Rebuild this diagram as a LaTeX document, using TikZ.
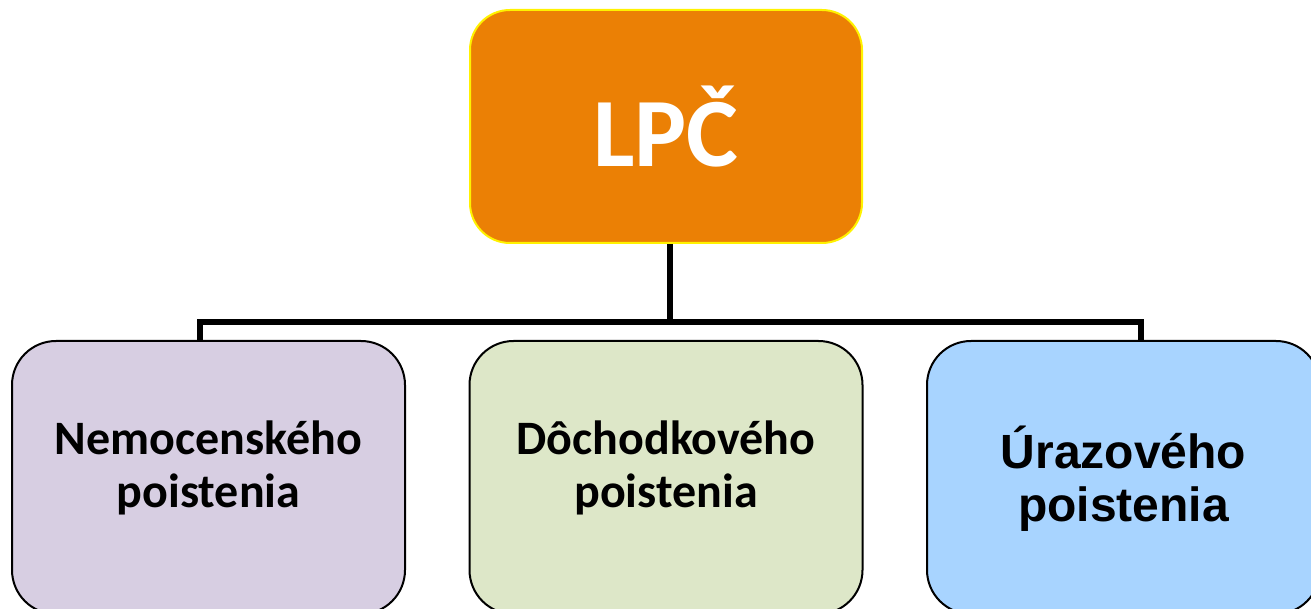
\documentclass[tikz,border=0pt]{standalone}
\usepackage{fontspec}
\newfontfamily\calib{Carlito}
\newfontfamily\arialf{Liberation Sans}
\definecolor{lpcorange}{RGB}{235,128,5}
\definecolor{lavbox}{RGB}{215,206,226}
\definecolor{greenbox}{RGB}{221,231,200}
\definecolor{bluebox}{RGB}{168,212,255}
\begin{document}
\begin{tikzpicture}[x=1pt,y=-1pt,
  topbox/.style={draw=yellow,line width=2pt,fill=lpcorange,rounded corners=40pt,
    minimum width=392pt,minimum height=233pt,inner sep=0pt,text=white,
    font=\calib\bfseries\fontsize{98}{110}\selectfont},
  subbox/.style={draw=black,line width=2pt,rounded corners=44pt,
    minimum width=393pt,minimum height=273pt,inner sep=0pt},
  calibtxt/.style={align=center,inner sep=0pt,font=\calib\bfseries\fontsize{48}{53}\selectfont},
  arialtxt/.style={align=center,inner sep=0pt,font=\arialf\bfseries\fontsize{48}{53}\selectfont},
  bus/.style={line width=6pt}]
\useasboundingbox (0,0) rectangle (1311,609);
\clip (0,0) rectangle (1311,609);
\node[topbox] (lpc) at (666,126.5) {LPČ};
\node[subbox,fill=lavbox] (nem) at (208.5,477.5) {};
\node[subbox,fill=greenbox] (doc) at (666,477.5) {};
\node[subbox,fill=bluebox] (ura) at (1123.5,477.5) {};
\node[calibtxt] (nemt) at (208.5,468) {Nemocenského\\poistenia};
\node[calibtxt] (doct) at (666,468) {Dôchodkového\\poistenia};
\node[arialtxt] (urat) at (1123.5,479) {Úrazového\\poistenia};
\coordinate (hub) at (670,322);
\coordinate (bl) at (200,322);
\coordinate (br) at (1141,322);
\draw[bus] (lpc.south -| hub) -- (hub);
\draw[bus,line join=miter] (nem.north -| bl) -- (bl) -- (br) -- (ura.north -| br);
\end{tikzpicture}
\end{document}
